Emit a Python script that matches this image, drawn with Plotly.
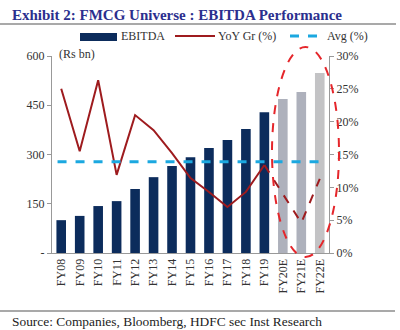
import plotly.graph_objects as go

categories = ["FY08", "FY09", "FY10", "FY11", "FY12", "FY13", "FY14", "FY15",
              "FY16", "FY17", "FY18", "FY19", "FY20E", "FY21E", "FY22E"]
ebitda = [100, 113, 143, 158, 195, 231, 265, 292, 320, 344, 378, 429, 469, 490, 548]
yoy = [25.0, 15.5, 26.3, 11.9, 21.0, 18.7, 15.2, 11.4, 9.3, 7.0, 9.3, 13.4, 9.1, 4.6, 11.3]
avg_pct = 13.9
n_actual = 12
left_ticks = [0, 150, 300, 450, 600]
left_ticktext = ["-", "150", "300", "450", "600"]
right_ticks = [0, 5, 10, 15, 20, 25, 30]

NAVY = "#0C2C5C"
RED = "#9E1B1E"
CYAN = "#1BA8E0"
FONT = "Liberation Serif"

xs = list(range(len(categories)))
bar_colors = [NAVY] * n_actual + ["#AEB1BC", "#AEB1BC", "#C3C3C5"]

fig = go.Figure()
fig.add_trace(go.Bar(x=xs, y=ebitda, marker=dict(color=bar_colors, line_width=0),
                     width=0.52, showlegend=False))
fig.add_trace(go.Scatter(x=xs[:n_actual], y=yoy[:n_actual], yaxis="y2", mode="lines",
                         line=dict(color=RED, width=2), showlegend=False))
fig.add_trace(go.Scatter(x=xs[n_actual - 1:], y=yoy[n_actual - 1:], yaxis="y2", mode="lines",
                         line=dict(color=RED, width=2, dash="dash"), showlegend=False))
fig.add_trace(go.Scatter(x=[-0.2, xs[-1] - 0.05], y=[avg_pct, avg_pct], yaxis="y2", mode="lines",
                         line=dict(color=CYAN, width=3, dash="dash"), showlegend=False))

L, T, W, H = 52, 56, 277, 197


def px(x):
    return (x - L) / W


def py(y):
    return (T + H - y) / H


shapes = [
    dict(type="line", xref="paper", yref="paper", x0=px(0), x1=px(396), y0=py(24), y1=py(24),
         line=dict(color="#555555", width=1.2)),
    dict(type="line", xref="paper", yref="paper", x0=px(0), x1=px(395), y0=py(311), y1=py(311),
         line=dict(color="#555555", width=1.2)),
    dict(type="circle", xref="paper", yref="paper", x0=px(272), x1=px(339), y0=py(257), y1=py(47),
         line=dict(color="#E5262B", width=2, dash="dash")),
    dict(type="rect", xref="paper", yref="paper", x0=px(80), x1=px(117), y0=py(41), y1=py(33),
         fillcolor=NAVY, line_width=0),
    dict(type="line", xref="paper", yref="paper", x0=px(175), x1=px(215), y0=py(36), y1=py(36),
         line=dict(color=RED, width=2)),
    dict(type="line", xref="paper", yref="paper", x0=px(290), x1=px(322), y0=py(36), y1=py(36),
         line=dict(color=CYAN, width=3, dash="dash")),
]

annotations = [
    dict(text="<b>Exhibit 2: FMCG Universe : EBITDA Performance</b>", xref="paper", yref="paper",
         x=px(10), y=py(15), xanchor="left", yanchor="middle", showarrow=False,
         font=dict(family=FONT, size=15, color="#2B2F8E")),
    dict(text="EBITDA", xref="paper", yref="paper", x=px(119), y=py(36), xanchor="left",
         yanchor="middle", showarrow=False, font=dict(family=FONT, size=12, color="#333")),
    dict(text="YoY Gr (%)", xref="paper", yref="paper", x=px(216), y=py(36), xanchor="left",
         yanchor="middle", showarrow=False, font=dict(family=FONT, size=12, color="#333")),
    dict(text="Avg (%)", xref="paper", yref="paper", x=px(325), y=py(36), xanchor="left",
         yanchor="middle", showarrow=False, font=dict(family=FONT, size=12, color="#333")),
    dict(text="(Rs bn)", xref="paper", yref="paper", x=px(57), y=py(54), xanchor="left",
         yanchor="middle", showarrow=False, font=dict(family=FONT, size=12, color="#333")),
    dict(text="Source: Companies, Bloomberg, HDFC sec Inst Research", xref="paper", yref="paper",
         x=px(10), y=py(321), xanchor="left", yanchor="middle", showarrow=False,
         font=dict(family=FONT, size=13.4, color="#222")),
]

fig.update_layout(
    width=400, height=330,
    margin=dict(l=L, r=400 - L - W, t=T, b=330 - T - H),
    paper_bgcolor="white", plot_bgcolor="white",
    font=dict(family=FONT, size=12, color="#333"),
    shapes=shapes, annotations=annotations,
    xaxis=dict(range=[-0.5, len(categories) - 0.5], tickvals=xs, ticktext=categories,
               tickangle=-90, showgrid=False, zeroline=False, showline=True,
               linecolor="#999999", linewidth=1, ticks="", tickfont=dict(size=12)),
    yaxis=dict(range=[0, 600], tickvals=left_ticks, ticktext=left_ticktext, showgrid=False,
               zeroline=False, showline=True, linecolor="#999999", linewidth=1,
               ticks="outside", ticklen=4, tickcolor="#999999", tickfont=dict(size=12)),
    yaxis2=dict(range=[0, 30], overlaying="y", side="right", tickvals=right_ticks,
                ticktext=[f"{v}%" for v in right_ticks], showgrid=False, zeroline=False,
                showline=True, linecolor="#999999", linewidth=1, ticks="outside", ticklen=4,
                tickcolor="#999999", tickfont=dict(size=12)),
    bargap=0.5,
)

fig.write_html("out.html")
